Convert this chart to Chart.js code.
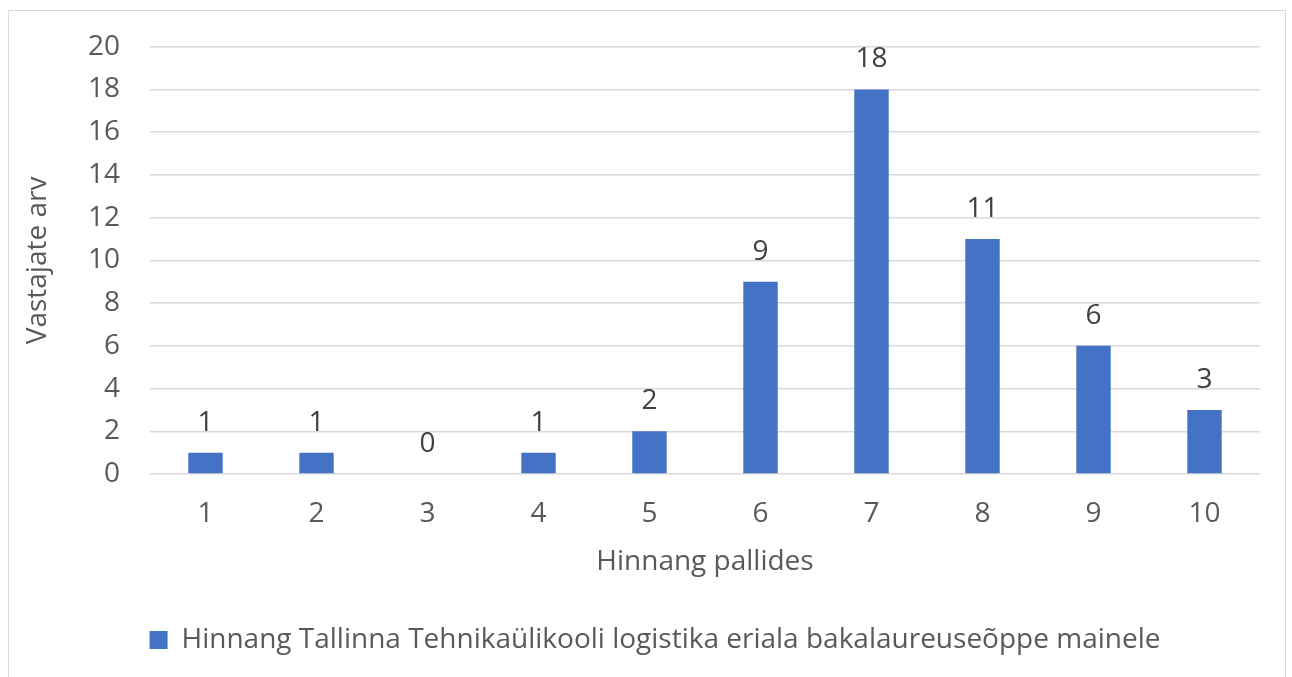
<!DOCTYPE html>
<html>
<head>
<meta charset="utf-8">
<script src="https://cdn.jsdelivr.net/npm/chart.js@4/dist/chart.umd.min.js"></script>
<style>
  html, body { margin: 0; padding: 0; background: #fff; overflow: hidden; }
  #frame { position: absolute; left: 8px; top: 10px; width: 1278px; height: 700px; border: 1.5px solid #D9D9D9; box-sizing: border-box; }
  #wrap { position: absolute; left: 0; top: 0; width: 1292px; height: 677px; }
</style>
</head>
<body>
<div id="frame"></div>
<div id="wrap"><canvas id="c" width="1292" height="677"></canvas></div>
<script>
const categories = ['1', '2', '3', '4', '5', '6', '7', '8', '9', '10'];
const seriesName = 'Hinnang Tallinna Tehnikaülikooli logistika eriala bakalaureuseõppe mainele';
const values = [1, 1, 0, 1, 2, 9, 18, 11, 6, 3];
const xTitle = 'Hinnang pallides';
const yTitle = 'Vastajate arv';

const FONT = "'Open Sans', sans-serif";
const FS = 28;
const TEXT = '#595959';

const valueLabels = {
  id: 'valueLabels',
  afterDatasetsDraw(chart) {
    const ctx = chart.ctx;
    ctx.save();
    ctx.font = FS + 'px ' + FONT;
    ctx.fillStyle = '#404040';
    ctx.textAlign = 'center';
    ctx.textBaseline = 'middle';
    chart.getDatasetMeta(0).data.forEach((bar, i) => {
      ctx.fillText(String(values[i]), bar.x, bar.y - 30);
    });
    ctx.restore();
  }
};

const shiftLegend = {
  id: 'shiftLegend',
  afterLayout(chart) {
    if (chart.legend) {
      chart.legend.left += 25;
      chart.legend.right += 25;
    }
  }
};

new Chart(document.getElementById('c'), {
  type: 'bar',
  data: {
    labels: categories,
    datasets: [{
      label: seriesName,
      data: values,
      backgroundColor: '#4472C4',
      borderWidth: 0,
      barPercentage: 0.62,
      categoryPercentage: 0.5
    }]
  },
  options: {
    responsive: false,
    animation: false,
    devicePixelRatio: 1,
    layout: { padding: { top: 44, right: 32, bottom: 13, left: 0 } },
    plugins: {
      legend: {
        position: 'bottom',
        labels: {
          font: { family: FONT, size: FS },
          color: TEXT,
          boxWidth: 18,
          boxHeight: 18,
          padding: 12
        }
      },
      tooltip: { enabled: false }
    },
    scales: {
      x: {
        grid: { display: false, drawTicks: false },
        border: { display: false },
        ticks: { font: { family: FONT, size: FS }, color: TEXT, padding: 23 },
        title: { display: true, text: xTitle, font: { family: FONT, size: FS }, color: TEXT, padding: { top: 0, bottom: 35 } },
        afterFit(s) { s.height = 140; }
      },
      y: {
        min: 0, max: 20,
        ticks: { stepSize: 2, font: { family: FONT, size: FS }, color: TEXT, padding: 30 },
        grid: { color: '#D9D9D9', lineWidth: 1.5, drawTicks: false },
        border: { display: false },
        title: { display: true, text: yTitle, font: { family: FONT, size: FS }, color: TEXT, padding: { top: 21, bottom: 0 } },
        afterFit(s) { s.width = 150; }
      }
    }
  },
  plugins: [valueLabels, shiftLegend]
});
</script>
</body>
</html>
